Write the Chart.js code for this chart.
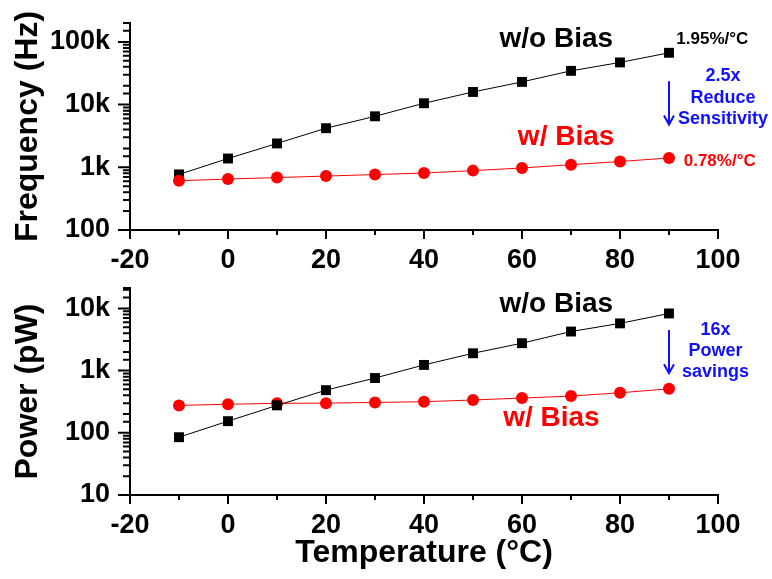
<!DOCTYPE html>
<html>
<head>
<meta charset="utf-8">
<script src="https://cdn.jsdelivr.net/npm/chart.js@4.4.1/dist/chart.umd.min.js"></script>
<style>
  body { margin: 0; background: #fff; }
  canvas { position: absolute; left: 0; }
</style>
</head>
<body>
<canvas id="freqChart" width="772" height="280" style="top:0"></canvas>
<canvas id="powerChart" width="772" height="299" style="top:280px"></canvas>
<script>
// data
const temps = [-10, 0, 10, 20, 30, 40, 50, 60, 70, 80, 90];
const freqNoBias = [770, 1380, 2400, 4200, 6500, 10500, 15900, 23000, 34500, 47000, 67000];
const freqBias = [610, 650, 685, 725, 765, 810, 885, 975, 1100, 1235, 1410];
const powerNoBias = [85, 154, 276, 485, 760, 1235, 1900, 2760, 4250, 5750, 8300];
const powerBias = [276, 288, 298, 300, 308, 316, 337, 362, 390, 440, 510];
const xMinorTicks = [-10, 10, 30, 50, 70, 90];

const FONT = "Arial, 'Liberation Sans', sans-serif";
const BLUE = '#1010ff';

const isDecade = v => {
  const l = Math.log10(v);
  return Math.abs(l - Math.round(l)) < 1e-9;
};

// outward tick marks, long for majors and short for minors
const tickMarks = {
  id: 'tickMarks',
  afterDraw(chart) {
    const {ctx, chartArea: a, scales: {x, y}} = chart;
    ctx.save();
    ctx.strokeStyle = '#000';
    ctx.lineWidth = 2;
    ctx.beginPath();
    x.ticks.forEach(t => {
      const px = x.getPixelForValue(t.value);
      ctx.moveTo(px, a.bottom); ctx.lineTo(px, a.bottom + 9);
    });
    xMinorTicks.forEach(v => {
      const px = x.getPixelForValue(v);
      ctx.moveTo(px, a.bottom); ctx.lineTo(px, a.bottom + 5);
    });
    y.ticks.forEach(t => {
      const py = y.getPixelForValue(t.value);
      ctx.moveTo(a.left, py); ctx.lineTo(a.left - (isDecade(t.value) ? 12 : 7), py);
    });
    ctx.stroke();
    ctx.restore();
  }
};

// text labels and arrow, placed in data units
const notes = {
  id: 'notes',
  afterDraw(chart, args, opts) {
    const {ctx, scales: {x, y}} = chart;
    ctx.save();
    ctx.textBaseline = 'middle';
    (opts.texts || []).forEach(n => {
      ctx.font = 'bold ' + n.size + 'px ' + FONT;
      ctx.fillStyle = n.color;
      ctx.textAlign = n.align || 'center';
      const px = x.getPixelForValue(n.x);
      const py = y.getPixelForValue(n.y);
      n.lines.forEach((line, i) => ctx.fillText(line, px, py + i * (n.lh || 0)));
    });
    if (opts.arrow) {
      const ar = opts.arrow;
      const px = x.getPixelForValue(ar.x);
      const y1 = y.getPixelForValue(ar.from);
      const y2 = y.getPixelForValue(ar.to);
      ctx.strokeStyle = BLUE;
      ctx.lineWidth = 2;
      ctx.beginPath();
      ctx.moveTo(px, y1); ctx.lineTo(px, y2);
      ctx.moveTo(px - 5, y2 - 9); ctx.lineTo(px, y2); ctx.lineTo(px + 5, y2 - 9);
      ctx.stroke();
    }
    ctx.restore();
  }
};

function series(vals, color, style) {
  return {
    data: temps.map((t, i) => ({x: t, y: vals[i]})),
    borderColor: color,
    backgroundColor: color,
    borderWidth: 1,
    pointStyle: style,
    pointRadius: style === 'rect' ? 7 : 6,
    pointBorderWidth: 0
  };
}

function makeChart(id, datasets, cfg) {
  return new Chart(document.getElementById(id), {
    type: 'line',
    data: {datasets},
    options: {
      responsive: false,
      animation: false,
      devicePixelRatio: 1,
      layout: {padding: {left: 0, top: cfg.padTop, right: 54, bottom: 0}},
      plugins: {
        legend: {display: false},
        tooltip: {enabled: false},
        notes: cfg.notes
      },
      scales: {
        x: {
          type: 'linear',
          min: -20, max: 100,
          grid: {display: false, drawTicks: false},
          border: {display: true, color: '#000', width: 2},
          ticks: {stepSize: 20, padding: 14, color: '#000', font: {family: FONT, size: 27, weight: 'bold'}},
          title: {
            display: !!cfg.xTitle, text: cfg.xTitle, color: '#000',
            font: {family: FONT, size: 32, weight: 'bold'}, padding: {top: 0, bottom: 7}
          },
          afterFit: s => {
            s.height = cfg.xHeight;
            s.paddingLeft = 0; s.paddingRight = 0;
          }
        },
        y: {
          type: 'logarithmic',
          min: cfg.yMin, max: cfg.yMax,
          grid: {display: false, drawTicks: false},
          border: {display: true, color: '#000', width: 2},
          ticks: {
            autoSkip: false, padding: 20, color: '#000',
            font: {family: FONT, size: 27, weight: 'bold'},
            callback: v => isDecade(v) ? (v >= 1000 ? (v / 1000) + 'k' : String(v)) : ''
          },
          title: {
            display: true, text: cfg.yTitle, color: '#000',
            font: {family: FONT, size: 32, weight: 'bold'}, padding: {top: 9, bottom: 0}
          },
          afterFit: s => {
            s.width = 130;
            s.paddingTop = 0; s.paddingBottom = 0;
          }
        }
      }
    },
    plugins: [tickMarks, notes]
  });
}

makeChart('freqChart', [
  series(freqBias, '#ff0000', 'circle'),
  series(freqNoBias, '#000000', 'rect')
], {
  yMin: 100, yMax: 200000, yTitle: 'Frequency (Hz)', padTop: 23, xHeight: 50,
  notes: {
    texts: [
      {lines: ['w/o Bias'], x: 67, y: 111000, color: '#000', size: 28},
      {lines: ['w/ Bias'], x: 69, y: 2970, color: '#ff0000', size: 28},
      {lines: ['1.95%/°C'], x: 91.5, y: 111000, color: '#000', size: 17, align: 'left'},
      {lines: ['0.78%/°C'], x: 93, y: 1225, color: '#ff0000', size: 17, align: 'left'},
      {lines: ['2.5x', 'Reduce', 'Sensitivity'], x: 101, y: 28400, color: BLUE, size: 18, lh: 21.5}
    ],
    arrow: {x: 90, from: 23500, to: 4800}
  }
});

makeChart('powerChart', [
  series(powerNoBias, '#000000', 'rect'),
  series(powerBias, '#ff0000', 'circle')
], {
  yMin: 10, yMax: 21300, yTitle: 'Power (pW)', xTitle: 'Temperature (°C)', padTop: 8, xHeight: 84,
  notes: {
    texts: [
      {lines: ['w/o Bias'], x: 67, y: 11700, color: '#000', size: 28},
      {lines: ['w/ Bias'], x: 66, y: 172, color: '#ff0000', size: 28},
      {lines: ['16x', 'Power', 'savings'], x: 99.5, y: 4500, color: BLUE, size: 18, lh: 21}
    ],
    arrow: {x: 90, from: 4500, to: 910}
  }
});
</script>
</body>
</html>
